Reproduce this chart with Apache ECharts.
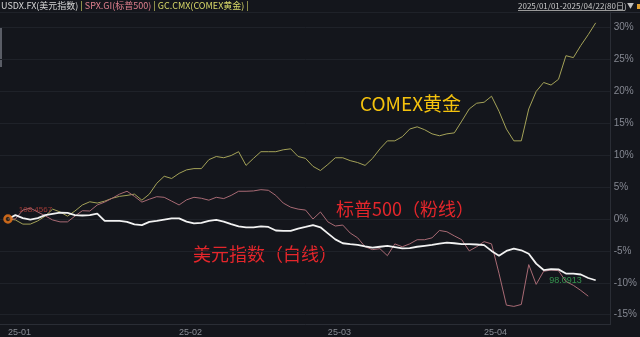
<!DOCTYPE html>
<html><head><meta charset="utf-8">
<script src="https://cdn.jsdelivr.net/npm/echarts@6/dist/echarts.min.js"></script>
<style>html,body{margin:0;padding:0;background:#14161c;}#c{width:640px;height:337px;}</style>
</head><body><div id="c"></div>
<script>
// month tick labels and the index of each month's first trading day (80 weekdays total)
const monthLabels = ['25-01', '25-02', '25-03', '25-04'];
const monthStart = [0, 23, 43, 64];
const yTicks = [-15, -10, -5, 0, 5, 10, 15, 20, 25, 30];

// cumulative change (%) since 2025/01/01
const usdx = [
  0, 0.6, 0.15, -0.1, 0.15, 0.6, 0.8, 1.0, 0.95, 0.6,
  0.55, 0.6, 0.85, -0.3, -0.3, -0.3, -0.45, -0.85, -0.95, -0.45,
  -0.3, -0.1, 0.1, 0.1, -0.4, -0.7, -0.6, -0.3, -0.15, -0.4,
  -0.8, -1.15, -1.3, -1.3, -1.15, -1.25, -1.8, -1.85, -1.85, -1.5,
  -1.25, -0.95, -1.3, -2.25, -3.2, -3.8, -3.95, -4.05, -4.3, -4.5,
  -4.35, -4.2, -4.4, -4.6, -4.55, -4.35, -4.2, -4.05, -3.85, -3.7,
  -3.8, -3.95, -3.95, -4.0, -4.1, -5.0, -5.75, -5.0, -4.65, -4.9,
  -5.45, -7.0, -8.0, -7.85, -7.9, -8.55, -8.55, -8.7, -9.25, -9.6
];
const spx = [
  0, 0.0, 1.4, 1.7, 1.1, 0.5, -0.15, -0.45, -0.45, 0.45,
  1.3, 1.25, 2.2, 2.65, 3.25, 3.9, 4.35, 3.55, 2.65, 3.1,
  3.5, 3.4, 2.8, 2.2, 3.0, 3.4, 3.25, 2.95, 3.4, 3.2,
  3.7, 4.35, 4.35, 4.4, 4.6, 4.5, 3.7, 2.5, 1.85, 1.55,
  1.4, 0.0, 1.1, -0.45, -1.1, -0.95, -2.2, -2.95, -4.35, -4.8,
  -4.65, -5.75, -3.9, -4.35, -3.9, -3.25, -3.25, -2.95, -1.8, -2.0,
  -2.65, -3.25, -5.0, -4.35, -3.55, -3.9, -8.5, -13.5, -13.7, -13.4,
  -7.15, -10.25, -8.2, -8.0, -8.1, -9.8, -10.4, -11.2, -12.1
];
const gold = [
  0, -0.15, -0.8, -0.8, -0.3, 0.45, 1.55, 1.1, 0.45, 1.25,
  2.2, 2.7, 2.5, 2.8, 3.25, 3.55, 3.7, 3.9, 2.95, 3.9,
  5.6, 6.7, 6.35, 7.15, 7.7, 7.9, 7.9, 9.3, 9.8, 9.6,
  9.95, 10.55, 8.4, 9.5, 10.55, 10.55, 10.55, 10.85, 11.0, 9.8,
  9.5, 8.25, 7.6, 8.55, 9.6, 9.6, 9.15, 8.85, 8.4, 9.5,
  11.0, 12.25, 12.25, 12.9, 14.1, 14.45, 14.0, 13.35, 13.05, 13.35,
  13.5, 15.35, 17.25, 18.15, 18.3, 19.25, 16.9, 14.1, 12.25, 12.25,
  17.25, 20.0, 21.4, 21.0, 21.9, 25.6, 25.3, 27.2, 28.9, 30.75
];
const usdxStartLabel = '108.4567';
const usdxEndLabel = '98.0913';
const rangeText = '2025/01/01-2025/04/22(80日)';

const cjk = '"Noto Sans CJK SC", "Noto Sans", sans-serif';
const toPairs = arr => arr.map((v, i) => [i, v]);
const last = usdx.length - 1;

const chart = echarts.init(document.getElementById('c'), null, {renderer: 'canvas'});
chart.setOption({
  backgroundColor: '#14161c',
  animation: false,
  title: {
    left: 1, top: 1, padding: 0,
    text: '{a|USDX.FX(美元指数)}{s| | }{b|SPX.GI(标普500)}{s| | }{c|GC.CMX(COMEX黄金)}{s| |}',
    textStyle: {
      fontWeight: 'normal',
      rich: {
        a: {color: '#d6d6d6', fontSize: 9, fontWeight: 'normal', fontFamily: cjk},
        b: {color: '#e0808e', fontSize: 9, fontWeight: 'normal', fontFamily: cjk},
        c: {color: '#d8d868', fontSize: 9, fontWeight: 'normal', fontFamily: cjk},
        s: {color: '#d8d868', fontSize: 9, fontWeight: 'normal', fontFamily: cjk}
      }
    }
  },
  grid: {left: 0, right: 28, top: 12, bottom: 10},
  xAxis: {
    type: 'value',
    min: -8 / 7.456,
    max: last + 15 / 7.456,
    axisLine: {show: true, onZero: false, lineStyle: {color: '#2a2d35'}},
    axisTick: {show: false},
    splitLine: {show: false},
    axisLabel: {
      customValues: monthStart,
      formatter: v => monthLabels[monthStart.indexOf(v)] || '',
      align: 'left', color: '#8a8d95', fontSize: 9, margin: 4,
      fontFamily: 'Arial, "Liberation Sans", sans-serif'
    }
  },
  yAxis: {
    type: 'value',
    position: 'right',
    min: -16.46, max: 32.45, splitNumber: 10,
    axisLine: {show: true, onZero: false, lineStyle: {color: '#2a2d35'}},
    axisTick: {show: false},
    splitLine: {show: true, lineStyle: {color: '#1f2229'}},
    axisLabel: {
      customValues: yTicks,
      formatter: v => v + '%',
      color: '#858892', fontSize: 10, margin: 3,
      fontFamily: 'Arial, "Liberation Sans", sans-serif'
    }
  },
  series: [
    {name: 'GC.CMX', type: 'line', data: toPairs(gold), symbol: 'none',
     lineStyle: {color: '#a4a258', width: 1}, z: 2},
    {name: 'SPX.GI', type: 'line', data: toPairs(spx), symbol: 'none',
     lineStyle: {color: '#a86a74', width: 1}, z: 3},
    {name: 'USDX.FX', type: 'line', data: toPairs(usdx), symbol: 'none',
     lineStyle: {color: '#f2f2f2', width: 1.8}, z: 5},
    {type: 'scatter', data: [[0, usdx[0]]], symbol: 'circle', symbolSize: 7,
     itemStyle: {color: '#3a2414', borderColor: '#f27a1c', borderWidth: 2.5}, z: 10,
     label: {show: true, position: 'right', distance: 6, offset: [0, -9],
             formatter: usdxStartLabel, color: '#c0443c', fontSize: 8,
             fontFamily: 'Arial, sans-serif'}},
    {type: 'scatter', data: [[last, usdx[last]]], symbolSize: 0, z: 6,
     label: {show: true, position: 'left', distance: 14, formatter: usdxEndLabel,
             color: '#3db35a', fontSize: 9, fontFamily: 'Arial, sans-serif'}}
  ],
  graphic: [
    {type: 'line', shape: {x1: 0, y1: 12.5, x2: 640, y2: 12.5}, style: {stroke: '#262932', lineWidth: 1}, silent: true},
    {type: 'rect', shape: {x: 0, y: 27, width: 2, height: 40}, style: {fill: '#5a5d66'}, silent: true},
    {type: 'text', left: 518, top: 2, style: {text: rangeText, fill: '#c8c8c8', font: '8px ' + cjk}},
    {type: 'line', shape: {x1: 518, y1: 10.5, x2: 625, y2: 10.5}, style: {stroke: '#9a9a9a', lineWidth: 1}},
    {type: 'text', left: 627, top: 2, style: {text: '▼', fill: '#c0c0c0', font: '7px ' + cjk}},
    {type: 'rect', shape: {x: 637, y: 4, width: 3, height: 5}, style: {fill: '#e0a030'}},
    {type: 'text', left: 360, top: 94, style: {text: 'COMEX黄金', fill: '#f4c20d', font: '19px ' + cjk}},
    {type: 'text', left: 336, top: 200, style: {text: '标普500（粉线）', fill: '#e4262b', font: '18px ' + cjk}},
    {type: 'text', left: 193, top: 245, style: {text: '美元指数（白线）', fill: '#e4262b', font: '18px ' + cjk}}
  ]
});
</script>
</body></html>
